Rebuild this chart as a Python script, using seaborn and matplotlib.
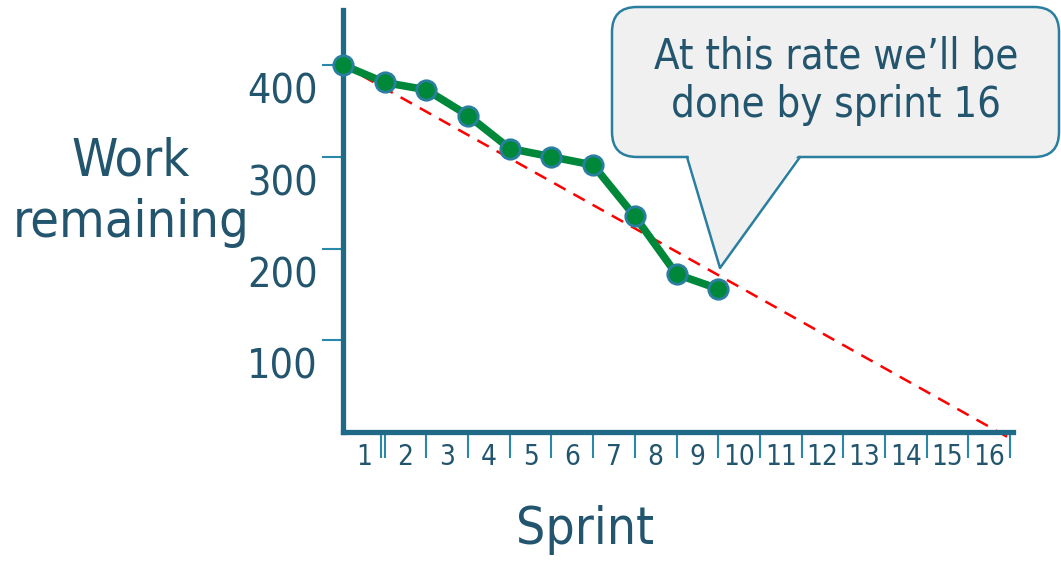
import numpy as np
import pandas as pd
import matplotlib
matplotlib.use("Agg")
import matplotlib.pyplot as plt
import seaborn as sns
from matplotlib.patches import FancyBboxPatch, Polygon
from matplotlib.lines import Line2D
from matplotlib.transforms import ScaledTranslation

# data
sprints = [0, 1, 2, 3, 4, 5, 6, 7, 8, 9]
work_left = [400, 381, 373, 345, 309, 300, 291, 235, 172, 156]
ideal_x = [0, 16]
ideal_y = [400, -7]
y_ticks = [100, 200, 300, 400]
sprint_labels = [str(i) for i in range(1, 17)]
note = "At this rate we\u2019ll be\ndone by sprint 16"

AXIS = '#1f6b87'
TICK = '#2a88aa'
TXT = '#23566e'
W, H = 1061, 562

sns.set_theme(style='white')
plt.rcParams['font.family'] = ['DejaVu Sans']
plt.rcParams['font.stretch'] = 'condensed'

fig = plt.figure(figsize=(W / 100, H / 100), dpi=100)
px = fig.dpi_scale_trans

# axes placed so x=0 / y=0 sit at the drawn axis lines
ax = fig.add_axes([343 / W, (H - 432) / H, (1013 - 343) / W, (432 - 10) / H])
ax.set_xlim(0, 16.07)
ax.set_ylim(0, 460)

df = pd.DataFrame({'sprint': sprints, 'work': work_left})
ideal = pd.DataFrame({'sprint': ideal_x, 'work': ideal_y})

sns.lineplot(data=ideal, x='sprint', y='work', ax=ax, color='red', lw=1.8,
             dashes=False, clip_on=False, zorder=2).lines[0].set_dashes([5.2, 3.6])
sns.lineplot(data=df, x='sprint', y='work', ax=ax, color='#00883a', lw=5.5,
             marker='o', markersize=14, markerfacecolor='#00883a',
             markeredgecolor='#2a7fa0', markeredgewidth=2, clip_on=False, zorder=3)

for s in ['top', 'right']:
    ax.spines[s].set_visible(False)
for s in ['left', 'bottom']:
    ax.spines[s].set_color(AXIS)
    ax.spines[s].set_linewidth(3.8)

ax.set_xlabel('')
ax.set_ylabel('')

# y ticks, labels sit below their tick
ax.set_yticks(y_ticks)
ax.set_yticklabels([str(v) for v in y_ticks])
ax.tick_params(axis='y', direction='out', length=15, width=1.5, color=TICK,
               pad=3, labelsize=29.5, labelcolor=TXT, left=True)
off = ScaledTranslation(0, -0.23, fig.dpi_scale_trans)
for lab in ax.get_yticklabels():
    lab.set_transform(lab.get_transform() + off)

# x: boundary ticks, labels centred between them
ax.set_xticks([0.9] + list(range(1, 17)))
ax.set_xticklabels([])
ax.set_xticks(np.arange(0.5, 16, 1), minor=True)
ax.set_xticklabels(sprint_labels, minor=True)
ax.tick_params(axis='x', which='major', direction='out', length=18.5, width=1.5,
               color=TICK, bottom=True)
ax.tick_params(axis='x', which='minor', length=0, pad=8, labelsize=20,
               labelcolor=TXT, bottom=True)

# axis titles
fig.text(131 / 100, (H - 192) / 100, 'Work\nremaining', transform=px,
         ha='center', va='center', fontsize=37.5, color=TXT, linespacing=1.3)
fig.text(585 / 100, (H - 530) / 100, 'Sprint', transform=px,
         ha='center', va='center', fontsize=37, color=TXT)

# speech bubble
def P(x, y):
    return (x / 100, (H - y) / 100)

box = FancyBboxPatch(P(612, 157), (1059 - 612) / 100, 150 / 100,
                     boxstyle='round,pad=0,rounding_size=0.25', transform=px,
                     fc='#f0f0f0', ec='#2a7fa0', lw=1.8, zorder=5)
fig.add_artist(box)
tri = Polygon([P(688, 154), P(799, 154), P(720, 268)], closed=True, transform=px,
              fc='#f0f0f0', ec='none', zorder=6)
fig.add_artist(tri)
edge = Line2D([687 / 100, 720 / 100, 800 / 100],
              [(H - 157) / 100, (H - 268) / 100, (H - 157) / 100],
              transform=px, color='#2a7fa0', lw=1.8, zorder=7)
fig.add_artist(edge)
fig.text(836 / 100, (H - 81) / 100, note, transform=px, ha='center', va='center',
         fontsize=30, color=TXT, zorder=8)

plt.savefig('out.png', dpi=100)
